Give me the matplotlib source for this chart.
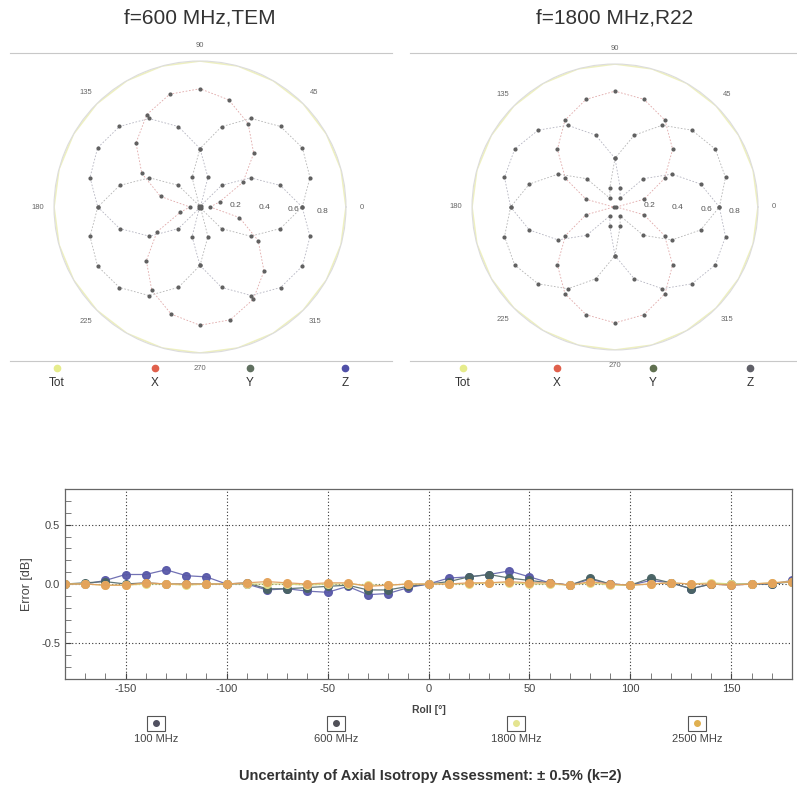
import numpy as np
import matplotlib
matplotlib.use("Agg")
import matplotlib.pyplot as plt
from matplotlib.lines import Line2D
from matplotlib.patches import Rectangle

plt.rcParams['font.family'] = ['Liberation Sans', 'DejaVu Sans']
plt.rcParams['axes.unicode_minus'] = False

# ---------------- polar data (angle in degrees, normalized field) -------------
theta_deg = [0, 15, 30, 45, 60, 75, 90, 105, 120, 135, 150, 165,
             180, 195, 210, 225, 240, 255, 270, 285, 300, 315, 330, 345]

tot_600 = [1.0] * 24
x_600 = [0.07, 0.14, 0.34, 0.52, 0.66, 0.76, 0.81, 0.80, 0.73, 0.62, 0.46, 0.28,
         0.07, 0.14, 0.34, 0.52, 0.66, 0.76, 0.81, 0.80, 0.73, 0.62, 0.46, 0.28]
y_600 = [0.70, 0.78, 0.81, 0.78, 0.70, 0.57, 0.40, 0.21, 0.01, 0.21, 0.40, 0.57,
         0.70, 0.78, 0.81, 0.78, 0.70, 0.57, 0.40, 0.21, 0.01, 0.21, 0.40, 0.57]
z_600 = [0.70, 0.57, 0.40, 0.21, 0.01, 0.21, 0.40, 0.57, 0.70, 0.78, 0.81, 0.78,
         0.70, 0.57, 0.40, 0.21, 0.01, 0.21, 0.40, 0.57, 0.70, 0.78, 0.81, 0.78]

tot_1800 = [1.0] * 24
x_1800 = [0.01, 0.21, 0.40, 0.57, 0.70, 0.78, 0.81, 0.78, 0.70, 0.57, 0.40, 0.21,
          0.01, 0.21, 0.40, 0.57, 0.70, 0.78, 0.81, 0.78, 0.70, 0.57, 0.40, 0.21]
y_1800 = [0.73, 0.80, 0.81, 0.76, 0.66, 0.52, 0.34, 0.14, 0.07, 0.28, 0.46, 0.62,
          0.73, 0.80, 0.81, 0.76, 0.66, 0.52, 0.34, 0.14, 0.07, 0.28, 0.46, 0.62]
z_1800 = [0.73, 0.62, 0.46, 0.28, 0.07, 0.14, 0.34, 0.52, 0.66, 0.76, 0.81, 0.80,
          0.73, 0.62, 0.46, 0.28, 0.07, 0.14, 0.34, 0.52, 0.66, 0.76, 0.81, 0.80]

polar_titles = ["f=600 MHz,TEM", "f=1800 MHz,R22"]
polar_series_names = ["Tot", "X", "Y", "Z"]
angle_labels = ["0", "45", "90", "135", "180", "225", "270", "315"]
radial_ticks = [0.2, 0.4, 0.6, 0.8]
radial_labels = ["0.2", "0.4", "0.6", "0.8"]

# ---------------- axial isotropy data ----------------------------------------
roll = [-180, -170, -160, -150, -140, -130, -120, -110, -100, -90, -80, -70, -60,
        -50, -40, -30, -20, -10, 0, 10, 20, 30, 40, 50, 60, 70, 80, 90, 100,
        110, 120, 130, 140, 150, 160, 170, 180]
err_100 = [0.00, 0.00, 0.03, 0.08, 0.08, 0.12, 0.07, 0.06, 0.00, 0.00, -0.05, -0.04, -0.06,
           -0.07, -0.02, -0.09, -0.08, -0.03, 0.00, 0.05, 0.06, 0.08, 0.11, 0.06, 0.01,
           -0.01, 0.04, 0.00, -0.01, 0.03, 0.01, -0.04, 0.00, -0.01, 0.00, 0.00, 0.03]
err_600 = [0.00, 0.01, 0.02, 0.00, 0.01, 0.00, 0.00, 0.00, 0.00, 0.01, -0.04, -0.04, -0.03,
           -0.02, -0.01, -0.05, -0.05, -0.02, 0.00, 0.02, 0.06, 0.08, 0.05, 0.03, 0.01,
           -0.01, 0.05, 0.00, -0.01, 0.05, 0.01, -0.04, 0.00, 0.00, 0.00, 0.00, 0.02]
err_1800 = [0.00, 0.00, -0.01, -0.01, 0.00, 0.00, -0.01, 0.00, 0.00, 0.00, 0.00, 0.00, -0.01,
            0.00, 0.00, -0.01, -0.01, 0.00, 0.00, 0.00, 0.00, 0.01, 0.01, 0.00, 0.00,
            -0.01, 0.01, -0.01, -0.01, 0.00, 0.01, 0.00, 0.01, 0.00, 0.00, 0.01, 0.02]
err_2500 = [0.00, 0.00, -0.01, -0.01, 0.01, 0.00, 0.00, 0.00, 0.00, 0.01, 0.02, 0.01, 0.00,
            0.01, 0.01, -0.02, -0.01, 0.00, 0.00, 0.00, 0.01, 0.01, 0.02, 0.01, 0.01,
            -0.01, 0.02, 0.00, -0.01, 0.00, 0.01, 0.00, 0.00, -0.01, 0.00, 0.01, 0.02]
freq_labels = ["100 MHz", "600 MHz", "1800 MHz", "2500 MHz"]

W, H = 797, 794
fig = plt.figure(figsize=(W / 100, H / 100), dpi=100)

def fx(px):
    return px / W

def fy(py):
    return 1 - py / H

# ---------------- polar plots --------------------------------------------------
polar_sets = [
    (tot_600, x_600, y_600, z_600),
    (tot_1800, x_1800, y_1800, z_1800),
]
polar_geom = [(200, 207, 146), (615, 207, 143)]
line_cols = ["#eef0c0", "#e0a8a8", "#b4b4b4", "#b4b4c0"]
legend_cols = [["#e6ec8c", "#e0604c", "#607060", "#5050a8"],
               ["#e6ec8c", "#e0604c", "#607050", "#606068"]]
legend_x = [[57, 155, 250, 345], [463, 557, 653, 750]]

th = np.deg2rad(np.array(theta_deg + [theta_deg[0]]))
for k, (data, (cx, cy, r)) in enumerate(zip(polar_sets, polar_geom)):
    ax = fig.add_axes([fx(cx - r), fy(cy + r), fx(2 * r), 2 * r / H], projection='polar')
    ax.set_ylim(0, 1.0)
    for j, vals in enumerate(data):
        rr = np.array(list(vals) + [vals[0]])
        if j == 0:
            ax.plot(th, rr, color=line_cols[0], lw=1.2, zorder=2)
        else:
            ax.plot(th, rr, color=line_cols[j], lw=0.6, ls=(0, (2, 2)), zorder=3)
            ax.plot(th[:-1], rr[:-1], ls='none', marker='o', ms=2.0,
                    mfc='#606060', mec='#606060', zorder=4)
    ax.set_thetagrids(np.arange(0, 360, 45), angle_labels, fontsize=5.5, color='#666666')
    ax.tick_params(axis='x', pad=1)
    ax.set_rgrids(radial_ticks, radial_labels, angle=-4, fontsize=6, color='#555555')
    ax.grid(False)
    ax.spines['polar'].set_color('#dcdcdc')
    ax.spines['polar'].set_linewidth(0.8)
    ax.set_facecolor('none')

    # title
    fig.text(fx(cx), fy(18), polar_titles[k], ha='center', va='center', fontsize=15,
             color='#333333')
    # frame lines
    x0 = 10 if k == 0 else 410
    x1 = 392 if k == 0 else 797
    fig.add_artist(Line2D([fx(x0), fx(x1)], [fy(53), fy(53)], color='#c8c8c8', lw=0.8))
    fig.add_artist(Line2D([fx(x0), fx(x1)], [fy(361), fy(361)], color='#c8c8c8', lw=0.8))
    # legend
    for j, name in enumerate(polar_series_names):
        lx = legend_x[k][j]
        fig.add_artist(Line2D([fx(lx)], [fy(368)], marker='o', ms=4.5, ls='none',
                              mfc=legend_cols[k][j], mec=legend_cols[k][j]))
        fig.text(fx(lx), fy(383), name, ha='center', va='center', fontsize=8.5,
                 color='#333333')

# ---------------- axial isotropy chart ----------------------------------------
ax2 = fig.add_axes([fx(65), fy(679), fx(727), (679 - 489) / H])
series = [err_100, err_600, err_1800, err_2500]
face_cols = ["#5858a8", "#4a6464", "#e4e08a", "#e4a25a"]
line_cols2 = ["#6a6ab0", "#5a7070", "#d8d880", "#e0a060"]
for vals, fc, lc in zip(series, face_cols, line_cols2):
    ax2.plot(roll, vals, color=lc, lw=0.9, marker='o', ms=5.5, mfc=fc, mec=fc,
             clip_on=True, alpha=0.95)
ax2.set_xlim(-180, 180)
ax2.set_ylim(-0.8, 0.8)
ax2.set_xticks([-150, -100, -50, 0, 50, 100, 150])
ax2.set_xticks(np.arange(-170, 180, 10), minor=True)
ax2.set_yticks([-0.5, 0.0, 0.5])
ax2.set_yticklabels(["-0.5", "0.0", "0.5"])
ax2.set_yticks(np.arange(-0.7, 0.75, 0.1), minor=True)
ax2.tick_params(axis='both', which='major', labelsize=8, direction='in', length=4,
                color='#444444', labelcolor='#444444')
ax2.tick_params(axis='both', which='minor', direction='in', length=4, color='#666666')
ax2.grid(True, which='major', ls=(0, (1, 2)), color='#333333', lw=0.8)
for sp in ax2.spines.values():
    sp.set_color('#666666')
    sp.set_linewidth(0.9)
ax2.set_ylabel("Error [dB]", fontsize=9, color='#444444', labelpad=6)
ax2.set_xlabel("Roll [°]", fontsize=7.5, fontweight='bold', color='#444444', labelpad=8)

# bottom legend
leg_x = [156, 336, 516, 697]
leg_cols = ["#505060", "#505058", "#e4e490", "#e0b050"]
for lx, name, c in zip(leg_x, freq_labels, leg_cols):
    fig.add_artist(Rectangle((fx(lx - 9), fy(731)), fx(18), 15 / H, fill=False,
                             ec='#555555', lw=0.8))
    fig.add_artist(Line2D([fx(lx)], [fy(723)], marker='o', ms=4, ls='none', mfc=c, mec=c))
    fig.text(fx(lx), fy(739), name, ha='center', va='center', fontsize=8, color='#444444')

fig.text(fx(430), fy(776), "Uncertainty of Axial Isotropy Assessment: ± 0.5% (k=2)",
         ha='center', va='center', fontsize=10.5, fontweight='bold', color='#333333')

fig.savefig("out.png", dpi=100, facecolor='white')
